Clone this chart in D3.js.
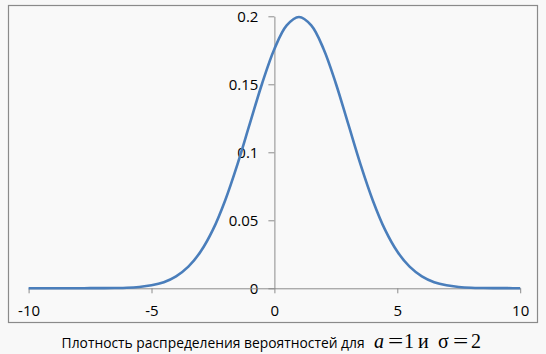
<!DOCTYPE html>
<html>
<head>
<meta charset="utf-8">
<script src="https://cdn.jsdelivr.net/npm/d3@7"></script>
<style>
  html, body { margin: 0; padding: 0; background: #f8f8f8; }
  svg { display: block; }
</style>
</head>
<body>
<div id="chart"></div>
<script>
// x-värden och plottade täthetsvärden
const xValues = [-10, -9.5, -9, -8.5, -8, -7.5, -7, -6.5, -6, -5.5, -5, -4.5, -4, -3.5, -3, -2.5, -2, -1.5, -1, -0.5,
  0, 0.5, 1, 1.5, 2, 2.5, 3, 3.5, 4, 4.5, 5, 5.5, 6, 6.5, 7, 7.5, 8, 8.5, 9, 9.5, 10];
const density = [0, 0, 0, 0, 0, 0.0001, 0.0001, 0.0002, 0.0004, 0.0010, 0.0022, 0.0045, 0.0088, 0.0159, 0.0270, 0.0431, 0.0648, 0.0913, 0.1210, 0.1506,
  0.1760, 0.1933, 0.1995, 0.1933, 0.1760, 0.1506, 0.1210, 0.0913, 0.0648, 0.0431, 0.0270, 0.0159, 0.0088, 0.0045, 0.0022, 0.0010, 0.0004, 0.0002, 0.0001, 0.0001, 0];

const xTickValues = [-10, -5, 0, 5, 10];
const xTickLabels = ["-10", "-5", "0", "5", "10"];
const yTickValues = [0, 0.05, 0.1, 0.15, 0.2];
const yTickLabels = ["0", "0.05", "0.1", "0.15", "0.2"];
const captionText = "Плотность распределения вероятностей для";

const width = 546, height = 354;

const svg = d3.select('#chart')
  .append('svg')
  .attr('width', width)
  .attr('height', height);

// ram runt diagrammet
svg.append('rect')
  .attr('x', 8.5).attr('y', 5.5)
  .attr('width', 529).attr('height', 317)
  .attr('fill', '#f9f9f9')
  .attr('stroke', '#8a8a8a')
  .attr('stroke-width', 1.2);

const scaleX = d3.scaleLinear().domain([-10, 10]).range([28.6, 520.2]);
const scaleY = d3.scaleLinear().domain([0, 0.2]).range([288.3, 16.3]);

const axisColor = '#8c8c8c';

// Y-axeln vid x = 0
const yAxis = d3.axisLeft(scaleY)
  .tickValues(yTickValues)
  .tickSize(6)
  .tickSizeOuter(0)
  .tickPadding(10)
  .tickFormat((d, i) => yTickLabels[i]);

const gy = svg.append('g')
  .attr('transform', `translate(${scaleX(0)},0)`)
  .call(yAxis);

// X-axeln vid y = 0
const xAxis = d3.axisBottom(scaleX)
  .tickValues(xTickValues)
  .tickSize(5)
  .tickSizeOuter(0)
  .tickFormat((d, i) => xTickLabels[i]);

const gx = svg.append('g')
  .attr('transform', `translate(0,${scaleY(0)})`)
  .call(xAxis);

gx.selectAll('text').attr('y', 22).attr('dy', '0.35em');

[gx, gy].forEach(g => {
  g.select('.domain').attr('stroke', axisColor);
  g.selectAll('.tick line').attr('stroke', axisColor);
  g.selectAll('text')
    .attr('fill', '#000')
    .style('font-family', '"Open Sans", sans-serif')
    .style('font-size', '15px');
});

// kurvan
svg.append('path')
  .datum(density)
  .attr('fill', 'none')
  .attr('stroke', '#4a7ebb')
  .attr('stroke-width', 2.6)
  .attr('stroke-linejoin', 'round')
  .attr('d', d3.line()
    .x((d, i) => scaleX(xValues[i]))
    .y(d => scaleY(d))
    .curve(d3.curveCatmullRom)
  );

// rubrik under diagrammet
svg.append('text')
  .attr('x', 61.6).attr('y', 347.5)
  .attr('textLength', 303)
  .attr('lengthAdjust', 'spacingAndGlyphs')
  .style('font-family', '"Open Sans", sans-serif')
  .style('font-size', '14px')
  .attr('fill', '#000')
  .text(captionText);

const mathParts = [
  {t: 'a', x: 374, italic: true, sx: 1},
  {t: '=', x: 388, sx: 1.35},
  {t: '1', x: 404, sx: 1},
  {t: 'и', x: 418, sx: 1},
  {t: 'σ', x: 438, sx: 1},
  {t: '=', x: 453, sx: 1.35},
  {t: '2', x: 471, sx: 1}
];
svg.selectAll('text.math')
  .data(mathParts)
  .enter().append('text')
    .attr('class', 'math')
    .attr('transform', d => `translate(${d.x},347.5) scale(${d.sx},1)`)
    .style('font-family', '"Liberation Serif", "Times New Roman", serif')
    .style('font-size', '20px')
    .style('font-style', d => d.italic ? 'italic' : 'normal')
    .attr('fill', '#000')
    .text(d => d.t);
</script>
</body>
</html>
